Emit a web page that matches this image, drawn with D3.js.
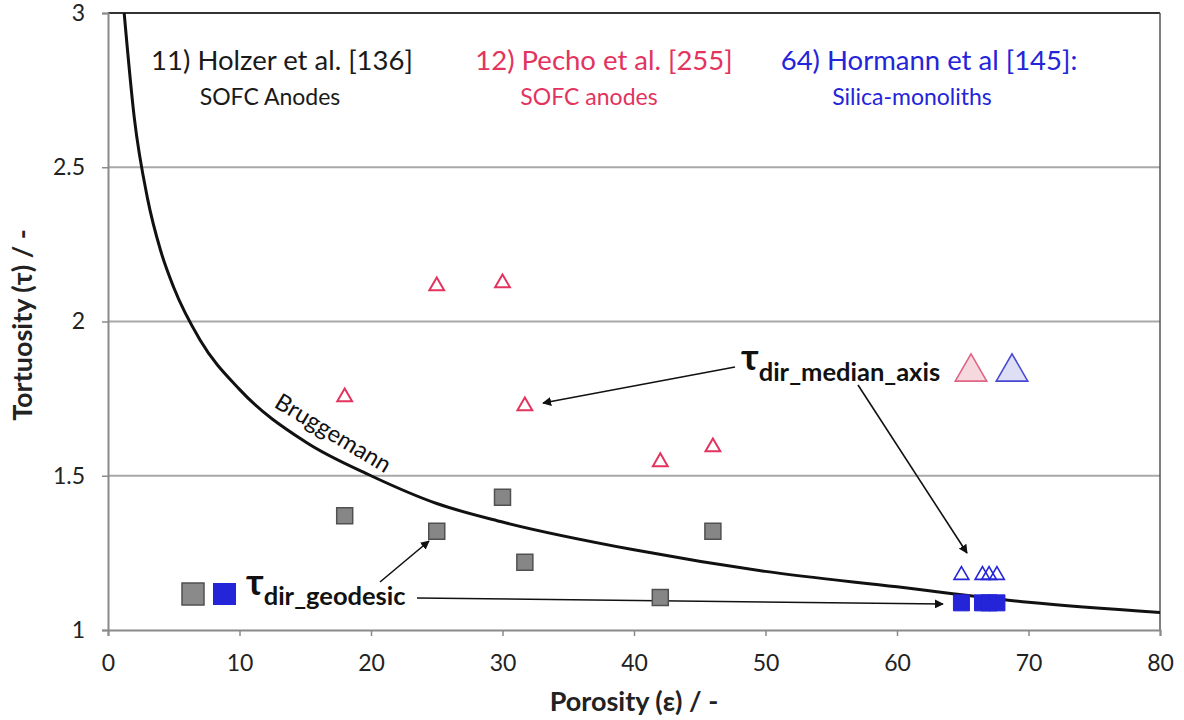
<!DOCTYPE html>
<html>
<head>
<meta charset="utf-8">
<script src="https://cdn.jsdelivr.net/npm/d3@7"></script>
<style>
  html, body { margin: 0; padding: 0; background: #ffffff; }
  svg { display: block; font-family: Lato, "Open Sans", sans-serif; }
</style>
</head>
<body>
<svg id="chart" width="1184" height="720"></svg>
<script>
// Porosity (%) vs. tortuosity for three studies
const holzerPorosity = [18, 25, 30, 31.7, 42, 46];
const holzerGeodesic = [1.37, 1.32, 1.43, 1.22, 1.105, 1.32];

const pechoPorosity = [18, 25, 30, 31.7, 42, 46];
const pechoMedianAxis = [1.755, 2.115, 2.125, 1.726, 1.545, 1.593];

const hormannPorosity = [64.9, 66.5, 67.0, 67.6];
const hormannMedianAxis = [1.178, 1.178, 1.178, 1.178];
const hormannGeodesic = [1.088, 1.088, 1.088, 1.088];

// Bruggemann relation, sampled points
const bruggPorosity = [1.23, 2, 3, 4, 5, 7, 10, 15, 20, 25, 30, 40, 50, 60, 70, 80];
const bruggTortuosity = [3.0, 2.66, 2.4, 2.23, 2.11, 1.94, 1.78, 1.61, 1.50, 1.41, 1.35, 1.26, 1.19, 1.14, 1.09, 1.057];

const xTicks = [0, 10, 20, 30, 40, 50, 60, 70, 80];
const yTicks = [1, 1.5, 2, 2.5, 3];

const svg = d3.select("#chart");
const plotLeft = 108, plotRight = 1160, plotTop = 13, plotBottom = 630;

const x = d3.scaleLinear().domain([0, 80]).range([plotLeft, plotRight]);
const y = d3.scaleLinear().domain([1, 3]).range([plotBottom, plotTop]);

const RED = "#e2345e", BLUE = "#2424d8";

// horizontal grid lines
svg.append("g").selectAll("line")
  .data(yTicks.filter(t => t > 1 && t < 3))
  .join("line")
  .attr("x1", plotLeft).attr("x2", plotRight)
  .attr("y1", d => y(d)).attr("y2", d => y(d))
  .attr("stroke", "#a8a8a8").attr("stroke-width", 2);

// plot frame: dark top/right, grey axes
svg.append("line").attr("x1", plotLeft).attr("x2", plotRight).attr("y1", plotTop).attr("y2", plotTop)
  .attr("stroke", "#333").attr("stroke-width", 2);
svg.append("line").attr("x1", plotRight).attr("x2", plotRight).attr("y1", plotTop).attr("y2", plotBottom)
  .attr("stroke", "#555").attr("stroke-width", 1.5);

// axes
const xAxis = svg.append("g").attr("transform", `translate(0,${plotBottom})`)
  .call(d3.axisBottom(x).tickValues(xTicks).tickSize(6).tickPadding(19).tickFormat(d3.format("d")));
const yAxis = svg.append("g").attr("transform", `translate(${plotLeft},0)`)
  .call(d3.axisLeft(y).tickValues(yTicks).tickSize(6).tickPadding(17).tickFormat(d => String(d)));
[xAxis, yAxis].forEach(g => {
  g.select(".domain").attr("stroke", "#8a8a8a").attr("stroke-width", 2);
  g.selectAll(".tick line").attr("stroke", "#8a8a8a").attr("stroke-width", 1.5);
  g.selectAll(".tick text").attr("fill", "#222").attr("font-size", 23)
    .attr("font-family", "Lato, sans-serif");
});

// axis titles
svg.append("text").attr("x", 634).attr("y", 711).attr("text-anchor", "middle")
  .attr("font-size", 27).attr("font-weight", "bold").attr("fill", "#222")
  .text("Porosity (ε) / -");
svg.append("text").attr("transform", "translate(32,325) rotate(-90)")
  .attr("text-anchor", "middle").attr("font-size", 27).attr("font-weight", "bold").attr("fill", "#222")
  .text("Tortuosity (τ) / -");

// clip for the curve
svg.append("clipPath").attr("id", "plotClip").append("rect")
  .attr("x", plotLeft).attr("y", plotTop).attr("width", plotRight - plotLeft).attr("height", plotBottom - plotTop);

// Bruggemann curve
const brugg = bruggPorosity.map((p, i) => [p, bruggTortuosity[i]]);
svg.append("path").datum(brugg)
  .attr("clip-path", "url(#plotClip)")
  .attr("fill", "none").attr("stroke", "#111").attr("stroke-width", 3)
  .attr("d", d3.line().x(d => x(d[0])).y(d => y(d[1])).curve(d3.curveMonotoneX));

svg.append("text").attr("transform", "translate(329,440) rotate(31)")
  .attr("text-anchor", "middle").attr("font-size", 23.5).attr("fill", "#111")
  .text("Bruggemann");

// arrow marker
const defs = svg.append("defs");
defs.append("marker").attr("id", "arrowHead")
  .attr("viewBox", "0 0 10 10").attr("refX", 9).attr("refY", 5)
  .attr("markerWidth", 9).attr("markerHeight", 9).attr("markerUnits", "userSpaceOnUse")
  .attr("orient", "auto")
  .append("path").attr("d", "M0,0 L10,5 L0,10 z").attr("fill", "#111");

const arrows = [
  [735, 367, 543, 403],
  [858, 385, 967, 553],
  [380, 582, 429, 541],
  [417, 598, 943, 604]
];
svg.append("g").selectAll("line").data(arrows).join("line")
  .attr("x1", d => d[0]).attr("y1", d => d[1]).attr("x2", d => d[2]).attr("y2", d => d[3])
  .attr("stroke", "#111").attr("stroke-width", 1.6).attr("marker-end", "url(#arrowHead)");

// symbols
const tri = d3.symbol().type(d3.symbolTriangle);
const sq = d3.symbol().type(d3.symbolSquare);

// Holzer geodesic squares
svg.append("g").selectAll("path")
  .data(holzerPorosity.map((p, i) => [p, holzerGeodesic[i]]))
  .join("path")
  .attr("transform", d => `translate(${x(d[0])},${y(d[1])})`)
  .attr("d", sq.size(16 * 16)())
  .attr("fill", "#868686").attr("stroke", "#505050").attr("stroke-width", 1.5);

// Hormann geodesic squares
svg.append("g").selectAll("path")
  .data(hormannPorosity.map((p, i) => [p, hormannGeodesic[i]]))
  .join("path")
  .attr("transform", d => `translate(${x(d[0])},${y(d[1])})`)
  .attr("d", sq.size(16 * 16)())
  .attr("fill", BLUE).attr("stroke", BLUE).attr("stroke-width", 1);

// Pecho median-axis triangles
svg.append("g").selectAll("path")
  .data(pechoPorosity.map((p, i) => [p, pechoMedianAxis[i]]))
  .join("path")
  .attr("transform", d => `translate(${x(d[0])},${y(d[1])})`)
  .attr("d", tri.size(95)())
  .attr("fill", "none").attr("stroke", RED).attr("stroke-width", 2);

// Hormann median-axis triangles
svg.append("g").selectAll("path")
  .data(hormannPorosity.map((p, i) => [p, hormannMedianAxis[i]]))
  .join("path")
  .attr("transform", d => `translate(${x(d[0])},${y(d[1])})`)
  .attr("d", tri.size(95)())
  .attr("fill", "none").attr("stroke", BLUE).attr("stroke-width", 1.6);

// study labels
const studies = [
  { title: "11) Holzer et al. [136]", sub: "SOFC Anodes", color: "#1a1a1a", x: 282, sub_x: 270 },
  { title: "12) Pecho et al. [255]", sub: "SOFC anodes", color: RED, x: 604, sub_x: 589 },
  { title: "64) Hormann et al [145]:", sub: "Silica-monoliths", color: BLUE, x: 929, sub_x: 912 }
];
studies.forEach(s => {
  svg.append("text").attr("x", s.x).attr("y", 70).attr("text-anchor", "middle")
    .attr("font-size", 27.5).attr("fill", s.color).text(s.title);
  svg.append("text").attr("x", s.sub_x).attr("y", 105).attr("text-anchor", "middle")
    .attr("font-size", 23).attr("fill", s.color).text(s.sub);
});

// legend: median axis
const lmed = svg.append("text").attr("x", 741).attr("y", 370).attr("font-weight", "bold").attr("fill", "#111");
lmed.append("tspan").attr("font-size", 37).text("τ");
lmed.append("tspan").attr("font-size", 25.5).attr("dy", 11).text("dir_median_axis");

svg.append("path").attr("transform", "translate(971,372)")
  .attr("d", tri.size(430)())
  .attr("fill", "#f5d9de").attr("stroke", "#e06484").attr("stroke-width", 1.6);
svg.append("path").attr("transform", "translate(1012,372)")
  .attr("d", tri.size(430)())
  .attr("fill", "#dedef4").attr("stroke", "#4848d4").attr("stroke-width", 1.6);

// legend: geodesic
svg.append("rect").attr("x", 182).attr("y", 583).attr("width", 22).attr("height", 22)
  .attr("fill", "#8a8a8a").attr("stroke", "#505050").attr("stroke-width", 1.5);
svg.append("rect").attr("x", 213).attr("y", 583).attr("width", 23).attr("height", 22)
  .attr("fill", BLUE);
const lgeo = svg.append("text").attr("x", 246).attr("y", 595).attr("font-weight", "bold").attr("fill", "#111");
lgeo.append("tspan").attr("font-size", 37).text("τ");
lgeo.append("tspan").attr("font-size", 25.5).attr("dy", 10).text("dir_geodesic");
</script>
</body>
</html>
